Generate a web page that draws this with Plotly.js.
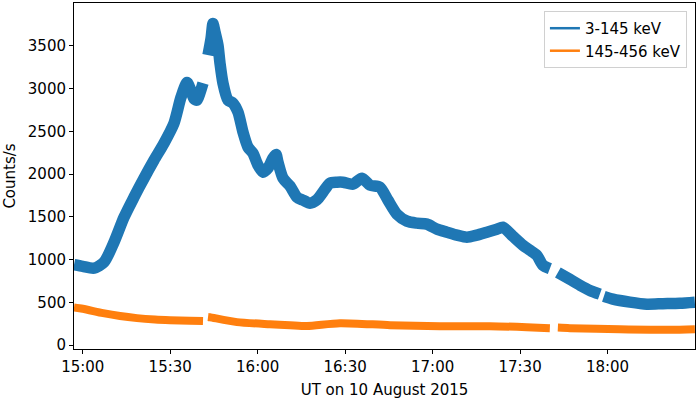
<!DOCTYPE html>
<html>
<head>
<meta charset="utf-8">
<script src="https://cdn.plot.ly/plotly-3.0.1.min.js"></script>
<style>html,body{margin:0;padding:0;background:#fff;}#chart{width:699px;height:400px;}</style>
</head>
<body>
<div id="chart"></div>
<script>
var day = "2015-08-10 ";
// 3-145 keV (null marks data gaps)
var lowTimes = ["14:57:00","15:00:00","15:03:52","15:07:18","15:10:44","15:14:10","15:17:35","15:21:01","15:24:27","15:27:52","15:31:18","15:33:42","15:35:46","15:36:47","15:38:10","15:39:11","15:40:13","15:41:15","15:42:06","15:42:58","15:43:59","15:44:40","15:45:22","15:46:23","15:47:04","15:48:06","15:49:49","15:51:32","15:53:15","15:54:58","15:56:40","15:58:23","16:00:06","16:01:49","16:03:32","16:05:15","16:06:17","16:06:58","16:08:41","16:11:05","16:13:29","16:15:32","16:17:56","16:20:20","16:22:23","16:24:47","16:27:11","16:29:15","16:32:41","16:35:46","16:38:31","16:41:56","16:44:41","16:47:46","16:51:11","16:54:37","16:58:03","17:01:29","17:04:55","17:08:20","17:11:46","17:15:12","17:18:37","17:22:03","17:24:07","17:27:32","17:30:58","17:33:22","17:35:46","17:37:49","17:40:13","17:41:56","17:42:58","17:47:05","17:50:31","17:53:56","17:57:22","17:58:04","17:58:44","18:01:50","18:07:40","18:13:29","18:18:58","18:24:48","18:29:57"];
var lowCounts = [940,920,900,970,1204,1496,1730,1952,2163,2361,2595,2899,3070,3004,2880,2864,2950,3063,null,3390,3580,3760,3660,3507,3300,3063,2864,2829,2724,2490,2315,2244,2104,2022,2069,2186,2230,2139,1952,1860,1730,1695,1660,1700,1789,1894,1905,1905,1882,1952,1870,1847,1695,1531,1450,1426,1415,1356,1321,1286,1262,1286,1321,1356,1379,1274,1169,1110,1050,935,895,null,850,770,701,640,596,null,570,538,503,479,485,491,503];
// 145-456 keV
var highTimes = ["14:57:00","15:00:00","15:06:58","15:12:47","15:18:37","15:24:47","15:29:56","15:36:47","15:41:15","15:42:06","15:42:58","15:43:38","15:52:55","16:04:13","16:11:05","16:16:55","16:28:13","16:45:22","17:02:31","17:19:39","17:32:20","17:40:13","17:41:56","17:42:58","17:47:05","18:04:14","18:21:22","18:29:57"];
var highCounts = [440,425,374,340,316,300,292,285,281,null,330,327,269,245,234,225,257,234,222,222,210,199,null,205,199,187,180,187];

var xTickVals = ["15:00","15:30","16:00","16:30","17:00","17:30","18:00"];
var yTickVals = [0,500,1000,1500,2000,2500,3000,3500];
var seriesNames = ["3-145 keV","145-456 keV"];

function withDay(a){ return a.map(function(t){ return day + t; }); }

var blue = "#1f77b4", orange = "#ff7f0e";
var traces = [
  {x: withDay(lowTimes), y: lowCounts, type: "scatter", mode: "lines", line: {color: blue, width: 11.5, shape: "spline", smoothing: 0.7}, connectgaps: false, showlegend: false, hoverinfo: "skip"},
  {x: withDay(highTimes), y: highCounts, type: "scatter", mode: "lines", line: {color: orange, width: 8, shape: "spline", smoothing: 0.7}, connectgaps: false, showlegend: false, hoverinfo: "skip"},
  // legend-only entries (single point outside the visible range)
  {x: [day + "12:00:00"], y: [0], type: "scatter", mode: "lines", name: seriesNames[0], line: {color: blue, width: 2.5}},
  {x: [day + "12:00:00"], y: [0], type: "scatter", mode: "lines", name: seriesNames[1], line: {color: orange, width: 2.5}}
];

var fnt = {family: "DejaVu Sans, sans-serif", size: 15, color: "#000"};
var layout = {
  width: 699, height: 400,
  margin: {l: 74, r: 4, t: 3, b: 51},
  paper_bgcolor: "#fff", plot_bgcolor: "#fff",
  font: fnt,
  showlegend: true,
  xaxis: {
    type: "date",
    range: [day + "14:57:00", day + "18:30:00"],
    tickvals: withDay(xTickVals.map(function(t){return t + ":00";})),
    ticktext: xTickVals,
    showgrid: false, zeroline: false,
    showline: true, linecolor: "#000", linewidth: 1, mirror: true,
    ticks: "outside", ticklen: 4, tickcolor: "#000",
    tickfont: fnt,
    title: {text: "UT on 10 August 2015", font: fnt, standoff: 9}
  },
  yaxis: {
    range: [-45, 4000],
    tickvals: yTickVals,
    showgrid: false, zeroline: false,
    showline: true, linecolor: "#000", linewidth: 1, mirror: true,
    ticks: "outside", ticklen: 4, tickcolor: "#000",
    tickfont: fnt,
    title: {text: "Counts/s", font: fnt, standoff: 8}
  },
  legend: {
    x: 0.987, xanchor: "right", y: 0.977, yanchor: "top",
    bgcolor: "rgba(255,255,255,0.8)", bordercolor: "#d0d0d0", borderwidth: 1,
    itemwidth: 30, tracegroupgap: 0,
    font: fnt
  }
};
Plotly.newPlot("chart", traces, layout, {displayModeBar: false, staticPlot: true});
</script>
</body>
</html>
